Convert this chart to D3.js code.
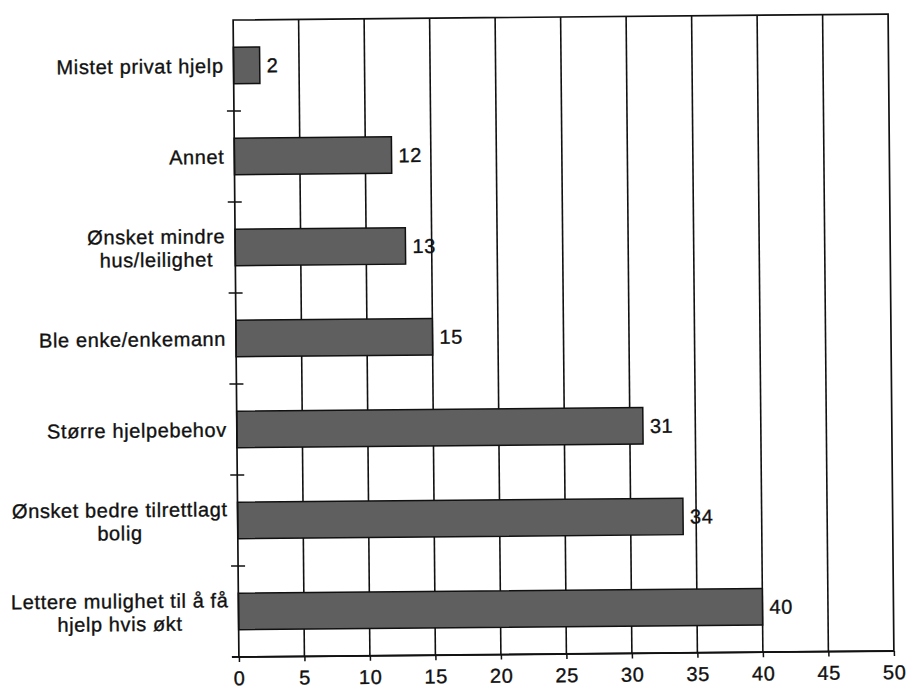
<!DOCTYPE html>
<html>
<head>
<meta charset="utf-8">
<script src="https://cdn.jsdelivr.net/npm/d3@7"></script>
<style>
  html, body { margin: 0; padding: 0; background: #fff; }
  svg { display: block; }
  text { font-family: "Liberation Sans", Arial, Helvetica, sans-serif; fill: #111; stroke: #111; stroke-width: 0.35px; }
</style>
</head>
<body>
<svg id="chart" width="908" height="695"></svg>
<script>
// Reasons for moving, share of respondents (%)
const categories = [
  ["Mistet privat hjelp"],
  ["Annet"],
  ["Ønsket mindre", "hus/leilighet"],
  ["Ble enke/enkemann"],
  ["Større hjelpebehov"],
  ["Ønsket bedre tilrettlagt", "bolig"],
  ["Lettere mulighet til å få", "hjelp hvis økt"]
];
const values = [2, 12, 13, 15, 31, 34, 40];
const xTicks = [0, 5, 10, 15, 20, 25, 30, 35, 40, 45, 50];

const W = 908, H = 695;
const L = 236, R = 891, T = 17, B = 654;
const FONT = 20, SPACING = 0.6;

const svg = d3.select("#chart");
svg.append("rect").attr("width", W).attr("height", H).attr("fill", "#fff");

// the whole figure sits slightly tilted on the page
const g = svg.append("g")
  .attr("transform", `rotate(-0.52 ${(L + R) / 2} ${(T + B) / 2})`);

const keys = categories.map(c => c.join(" "));
const data = keys.map((k, i) => ({ key: k, lines: categories[i], value: values[i] }));

const x = d3.scaleLinear().domain([0, 50]).range([L, R]);
const y = d3.scaleBand().domain(keys).range([T, B]).paddingInner(0.6).paddingOuter(0.3);

// vertical gridlines
g.append("g").selectAll("line")
  .data(xTicks.filter(t => t > 0 && t < 50))
  .join("line")
  .attr("x1", d => x(d)).attr("x2", d => x(d))
  .attr("y1", T).attr("y2", B)
  .attr("stroke", "#111").attr("stroke-width", 1.6);

// bars
g.append("g").selectAll("rect")
  .data(data)
  .join("rect")
  .attr("x", x(0))
  .attr("y", d => y(d.key))
  .attr("width", d => x(d.value) - x(0))
  .attr("height", y.bandwidth())
  .attr("fill", "#5f5f5f")
  .attr("stroke", "#111")
  .attr("stroke-width", 1.5);

// plot frame
g.append("rect")
  .attr("x", L).attr("y", T).attr("width", R - L).attr("height", B - T)
  .attr("fill", "none").attr("stroke", "#111").attr("stroke-width", 1.7);

// bottom axis
const xAxis = g.append("g")
  .attr("transform", `translate(0,${B})`)
  .call(d3.axisBottom(x).tickValues(xTicks).tickSize(5).tickPadding(9));
xAxis.select(".domain").remove();
xAxis.selectAll(".tick line").attr("stroke", "#111").attr("stroke-width", 1.5);
xAxis.selectAll(".tick text")
  .attr("font-size", FONT)
  .attr("letter-spacing", 0.5)
  .style("font-family", "'Liberation Sans', Arial, sans-serif")
  .attr("fill", "#111");
g.append("line")
  .attr("x1", L - 7).attr("x2", R).attr("y1", B).attr("y2", B)
  .attr("stroke", "#111").attr("stroke-width", 1.8);

// category boundary ticks crossing the left axis
const step = y.step();
const bounds = d3.range(1, keys.length).map(i => y(keys[i]) - step * y.paddingOuter());
g.append("g").selectAll("line")
  .data(bounds)
  .join("line")
  .attr("x1", L - 7).attr("x2", L + 7)
  .attr("y1", d => d).attr("y2", d => d)
  .attr("stroke", "#111").attr("stroke-width", 1.5);

// category labels: block right-aligned, lines centred within the block
const lineH = 23;
data.forEach(d => {
  const cy = y(d.key) + y.bandwidth() / 2;
  const grp = g.append("g");
  const texts = d.lines.map((ln, j) => grp.append("text")
    .attr("font-size", FONT)
    .attr("letter-spacing", SPACING)
    .attr("y", cy + (j - (d.lines.length - 1) / 2) * lineH)
    .attr("dy", "0.36em")
    .text(ln));
  const widths = texts.map(t => t.node().getComputedTextLength());
  const maxW = d3.max(widths);
  const centre = L - 10 - maxW / 2;
  texts.forEach(t => t.attr("x", centre).attr("text-anchor", "middle"));
});

// value labels
g.append("g").selectAll("text")
  .data(data)
  .join("text")
  .attr("x", d => x(d.value) + 7)
  .attr("y", d => y(d.key) + y.bandwidth() / 2)
  .attr("dy", "0.36em")
  .attr("font-size", FONT)
  .attr("letter-spacing", 0.5)
  .text(d => d.value);
</script>
</body>
</html>
